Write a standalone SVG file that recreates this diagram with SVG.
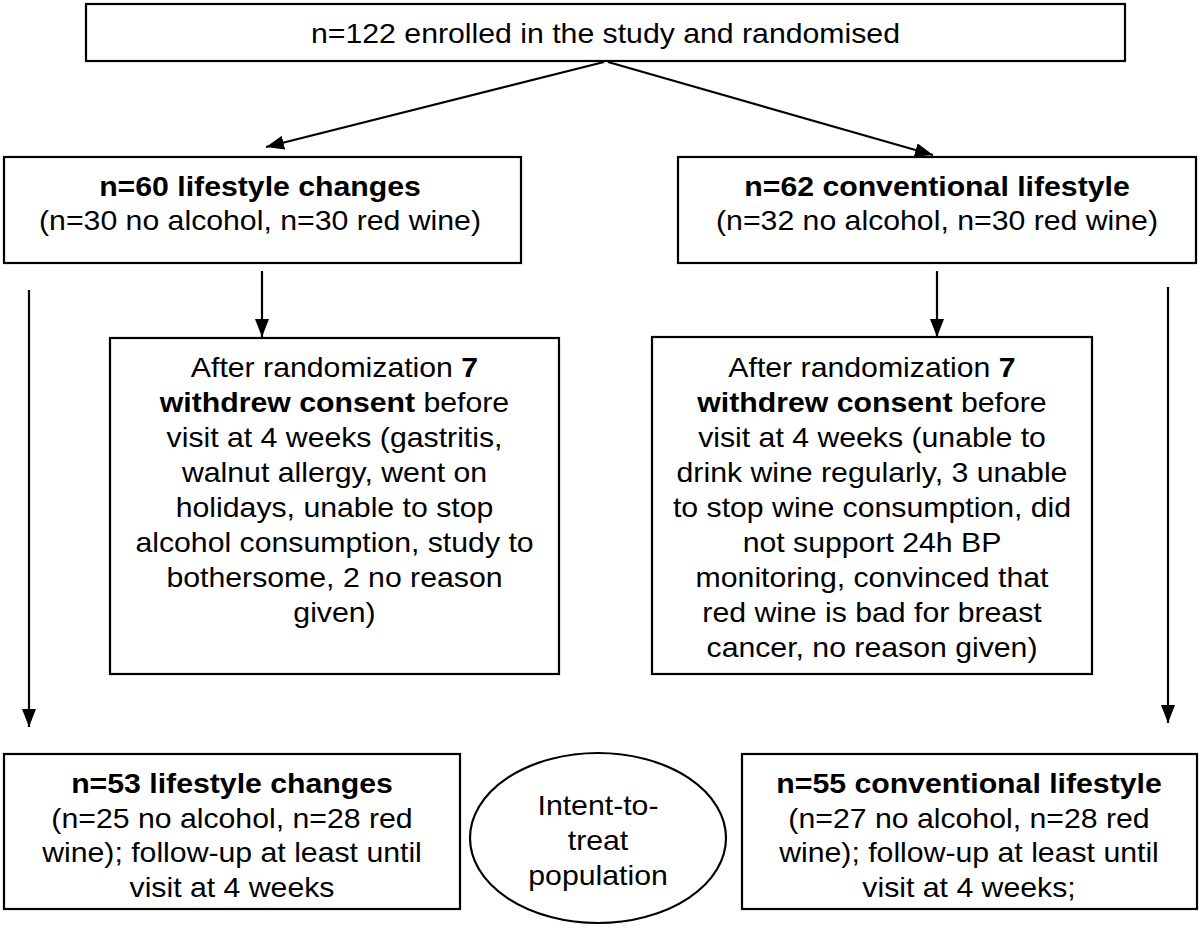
<svg xmlns="http://www.w3.org/2000/svg" width="1200" height="929" viewBox="0 0 1200 929">
<style>
.box{fill:#fff;stroke:#000;stroke-width:2.2}
.t{font-family:"Liberation Sans",Arial,sans-serif;font-size:28px;fill:#000;text-anchor:middle}
.b{font-weight:bold}
.c{stroke:#000;stroke-width:2.2;fill:none;marker-end:url(#ah)}
</style>
<defs>
<marker id="ah" markerUnits="userSpaceOnUse" markerWidth="18" markerHeight="14" refX="18" refY="7" orient="auto">
<path d="M0,0 L18,7 L0,14 z" fill="#000"/>
</marker>
</defs>
<rect width="1200" height="929" fill="#fff"/>
<g id="connectors">
<line class="c" x1="604" y1="62" x2="266" y2="147"/>
<line class="c" x1="608" y1="62" x2="933" y2="155"/>
<line class="c" x1="262" y1="271" x2="262" y2="337"/>
<line class="c" x1="937" y1="271" x2="937" y2="337"/>
<line class="c" x1="29" y1="290" x2="29" y2="727"/>
<line class="c" x1="1168" y1="287" x2="1168" y2="723"/>
</g>
<g id="enrolled">
<rect class="box" x="86" y="4" width="1039" height="57"/>
<text class="t" transform="translate(605.5 0) scale(1.08 1)"><tspan x="0" y="43">n=122 enrolled in the study and randomised</tspan></text>
</g>
<g id="lifestyle60">
<rect class="box" x="4" y="157" width="517" height="106"/>
<text class="t" transform="translate(260 0) scale(1.08 1)"><tspan x="0" y="196" class="b">n=60 lifestyle changes</tspan><tspan x="0" y="230">(n=30 no alcohol, n=30 red wine)</tspan></text>
</g>
<g id="conventional62">
<rect class="box" x="678" y="157" width="518" height="106"/>
<text class="t" transform="translate(937 0) scale(1.08 1)"><tspan x="0" y="196" class="b">n=62 conventional lifestyle</tspan><tspan x="0" y="230">(n=32 no alcohol, n=30 red wine)</tspan></text>
</g>
<g id="withdrew-left">
<rect class="box" x="110" y="338" width="449" height="336"/>
<text class="t" transform="translate(334.5 0) scale(1.08 1)"><tspan x="0" y="377">After randomization <tspan class="b">7</tspan></tspan><tspan x="0" y="412"><tspan class="b">withdrew consent</tspan> before</tspan><tspan x="0" y="447">visit at 4 weeks (gastritis,</tspan><tspan x="0" y="482">walnut allergy, went on</tspan><tspan x="0" y="517">holidays, unable to stop</tspan><tspan x="0" y="552">alcohol consumption, study to</tspan><tspan x="0" y="587">bothersome, 2 no reason</tspan><tspan x="0" y="622">given)</tspan></text>
</g>
<g id="withdrew-right">
<rect class="box" x="652" y="337" width="440" height="337"/>
<text class="t" transform="translate(872 0) scale(1.08 1)"><tspan x="0" y="377">After randomization <tspan class="b">7</tspan></tspan><tspan x="0" y="412"><tspan class="b">withdrew consent</tspan> before</tspan><tspan x="0" y="447">visit at 4 weeks (unable to</tspan><tspan x="0" y="482">drink wine regularly, 3 unable</tspan><tspan x="0" y="517">to stop wine consumption, did</tspan><tspan x="0" y="552">not support 24h BP</tspan><tspan x="0" y="587">monitoring, convinced that</tspan><tspan x="0" y="622">red wine is bad for breast</tspan><tspan x="0" y="657">cancer, no reason given)</tspan></text>
</g>
<g id="lifestyle53">
<rect class="box" x="4" y="754" width="456" height="155"/>
<text class="t" transform="translate(232 0) scale(1.08 1)"><tspan x="0" y="793" class="b">n=53 lifestyle changes</tspan><tspan x="0" y="828">(n=25 no alcohol, n=28 red</tspan><tspan x="0" y="862">wine); follow-up at least until</tspan><tspan x="0" y="897">visit at 4 weeks</tspan></text>
</g>
<g id="itt">
<ellipse class="box" cx="598" cy="838" rx="128" ry="85"/>
<text class="t" transform="translate(598 0) scale(1.08 1)"><tspan x="0" y="815">Intent-to-</tspan><tspan x="0" y="850">treat</tspan><tspan x="0" y="885">population</tspan></text>
</g>
<g id="conventional55">
<rect class="box" x="742" y="754" width="455" height="155"/>
<text class="t" transform="translate(969 0) scale(1.08 1)"><tspan x="0" y="793" class="b">n=55 conventional lifestyle</tspan><tspan x="0" y="828">(n=27 no alcohol, n=28 red</tspan><tspan x="0" y="862">wine); follow-up at least until</tspan><tspan x="0" y="897">visit at 4 weeks;</tspan></text>
</g>
</svg>
